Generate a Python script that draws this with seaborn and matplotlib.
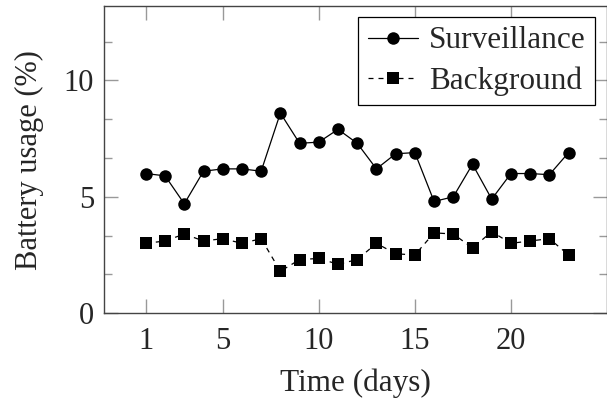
import matplotlib
matplotlib.use("Agg")
import matplotlib.pyplot as plt
import seaborn as sns
import pandas as pd
from matplotlib.ticker import MultipleLocator

days = list(range(1, 24))
surveillance = [6.0, 5.9, 4.7, 6.1, 6.2, 6.2, 6.1, 8.6, 7.3, 7.35, 7.9, 7.3,
                6.2, 6.85, 6.9, 4.8, 5.0, 6.4, 4.9, 6.0, 6.0, 5.95, 6.9]
background = [3.0, 3.1, 3.4, 3.1, 3.2, 3.0, 3.2, 1.8, 2.3, 2.35, 2.1, 2.3,
              3.0, 2.55, 2.5, 3.45, 3.4, 2.8, 3.5, 3.0, 3.1, 3.2, 2.5]
series_names = ["Surveillance", "Background"]
x_ticks = [1, 5, 10, 15, 20]
y_ticks = [0, 5, 10]

df = pd.DataFrame({
    "day": days * 2,
    "usage": surveillance + background,
    "series": [series_names[0]] * len(days) + [series_names[1]] * len(days),
})

sns.set_style("ticks")
plt.rcParams["font.family"] = ["Liberation Serif", "DejaVu Serif"]

fig = plt.figure(figsize=(6.07, 4.04), dpi=100)
ax = fig.add_axes([0.171, 0.225, 0.829, 0.760])

sns.lineplot(data=df, x="day", y="usage", style="series", color="black",
             markers={"Surveillance": "o", "Background": "s"},
             dashes={"Surveillance": "", "Background": (4, 4)},
             markersize=9, linewidth=0.9, markeredgewidth=0,
             ax=ax)

ax.set_xlim(-1.19, 25.0)
ax.set_ylim(0, 13.2)
ax.set_xticks(x_ticks)
ax.set_xticklabels([str(t) for t in x_ticks])
ax.set_yticks(y_ticks)
ax.yaxis.set_minor_locator(MultipleLocator(5 / 3))

for s in ax.spines.values():
    s.set_color("#444444")
    s.set_linewidth(1.0)
ax.tick_params(which="both", direction="in", top=True, right=True,
               color="#999999", labelsize=22, width=1.0)
ax.tick_params(which="major", length=10)
ax.tick_params(axis="x", which="major", pad=10)
ax.tick_params(axis="y", which="major", pad=7)
ax.tick_params(which="minor", length=6)
ax.tick_params(axis="x", which="minor", bottom=False, top=False)

ax.set_xlabel("Time (days)", fontsize=22.5, labelpad=9)
ax.set_ylabel("Battery usage (%)", fontsize=22, labelpad=14)

leg = ax.legend(loc="upper right", fontsize=22.5, frameon=True, fancybox=False,
                framealpha=1, edgecolor="black", borderpad=0.3,
                labelspacing=0.35, handlelength=1.6, handletextpad=0.35,
                borderaxespad=0, bbox_to_anchor=(0.976, 0.964))
leg.get_frame().set_linewidth(0.9)

fig.savefig("out.png", dpi=100)
